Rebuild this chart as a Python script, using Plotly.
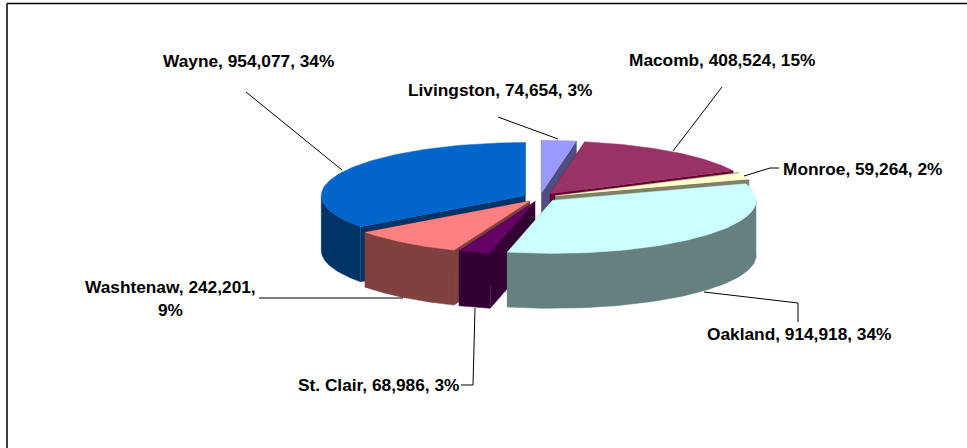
import math
import numpy as np
import plotly.graph_objects as go

counties = ["Livingston", "Macomb", "Monroe", "Oakland", "St. Clair", "Washtenaw", "Wayne"]
population = [74654, 408524, 59264, 914918, 68986, 242201, 954077]
shown_pct = [3, 15, 2, 34, 3, 9, 34]
top_colors = ["#9999FF", "#993366", "#FFFFCC", "#CCFFFF", "#660066", "#FF8080", "#0066CC"]
side_colors = ["#4D4D80", "#660033", "#808066", "#668080", "#330033", "#804040", "#003366"]

# Projection of the tilted pie onto the page (page-pixel axis units)
CX, CY, RX, RY, DEPTH, PULL = 540, 197.5, 204, 53, 55, 16.5
W, H = 967, 448

fig = go.Figure()


def poly(xs, ys, color):
    fig.add_trace(go.Scatter(x=list(xs), y=list(ys), mode="lines", fill="toself",
                             fillcolor=color, line=dict(width=0.5, color=color),
                             hoverinfo="skip", showlegend=False))


def line(xs, ys):
    fig.add_trace(go.Scatter(x=xs, y=ys, mode="lines", line=dict(color="black", width=1),
                             hoverinfo="skip", showlegend=False))


total = sum(population)
spans = {}
angle = 0.0
for name, v in zip(counties, population):
    spans[name] = (angle, angle + 360.0 * v / total)
    angle += 360.0 * v / total


def draw_wedge(i):
    a0, a1 = spans[counties[i]]
    mid = math.radians((a0 + a1) / 2)
    ax = CX + PULL * math.sin(mid)
    ay = CY - PULL * RY / RX * math.cos(mid)
    th = np.radians(np.linspace(a0, a1, 90))
    ex = ax + RX * np.sin(th)
    ey = ay - RY * np.cos(th)
    faces = []
    for px, py in ((ex[0], ey[0]), (ex[-1], ey[-1])):
        faces.append((py + ay, [ax, px, px, ax], [ay, py, py + DEPTH, ay + DEPTH]))
    lo, hi = max(a0, 90.0), min(a1, 270.0)
    if hi > lo:
        t = np.radians(np.linspace(lo, hi, 90))
        wx = ax + RX * np.sin(t)
        wy = ay - RY * np.cos(t)
        faces.append((2 * wy.max(), list(wx) + list(wx[::-1]), list(wy) + list(wy[::-1] + DEPTH)))
    for _, fx, fy in sorted(faces, key=lambda f: f[0]):
        poly(fx, fy, side_colors[i])
    poly([ax] + list(ex), [ay] + list(ey), top_colors[i])


for i in [0, 1, 2, 6, 5, 4, 3]:
    draw_wedge(i)

# Leader lines
line([246, 342], [92, 170])
line([498, 558], [117, 139])
line([722, 673], [87, 151])
line([779, 770, 744], [168, 168, 176])
line([704, 798, 798], [292, 303, 322])
line([475, 473, 461], [308, 385, 385])
line([259, 403], [298, 298])

labels = [f"{c}, {v:,}, {p}%" for c, v, p in zip(counties, population, shown_pct)]
label_pos = {
    "Livingston": (499.5, 90), "Macomb": (721.5, 60), "Monroe": (862, 169),
    "Oakland": (799, 334), "St. Clair": (378, 385), "Wayne": (248.5, 61),
}
annotations = []
for c, t in zip(counties, labels):
    if c in label_pos:
        x, y = label_pos[c]
        annotations.append(dict(x=x, y=y, text=t, showarrow=False, xanchor="center", yanchor="middle"))
w_label = labels[5].rsplit(" ", 1)
annotations.append(dict(x=170.5, y=287, text=w_label[0], showarrow=False, xanchor="center", yanchor="middle"))
annotations.append(dict(x=170.5, y=310, text=w_label[1], showarrow=False, xanchor="center", yanchor="middle"))

fig.update_layout(
    width=W, height=H, margin=dict(l=0, r=0, t=0, b=0),
    paper_bgcolor="white", plot_bgcolor="white",
    font=dict(family="Liberation Sans", size=17.3, color="black", weight="bold"),
    xaxis=dict(range=[0, W], visible=False, fixedrange=True),
    yaxis=dict(range=[H, 0], visible=False, fixedrange=True),
    annotations=annotations,
    shapes=[dict(type="line", x0=7, x1=W, y0=3.5, y1=3.5, line=dict(color="black", width=1.5)),
            dict(type="line", x0=7, x1=7, y0=3.5, y1=H, line=dict(color="black", width=1.5))],
)
fig.write_html("out.html", config=dict(displayModeBar=False),
               post_script="document.body.style.margin='0';")
